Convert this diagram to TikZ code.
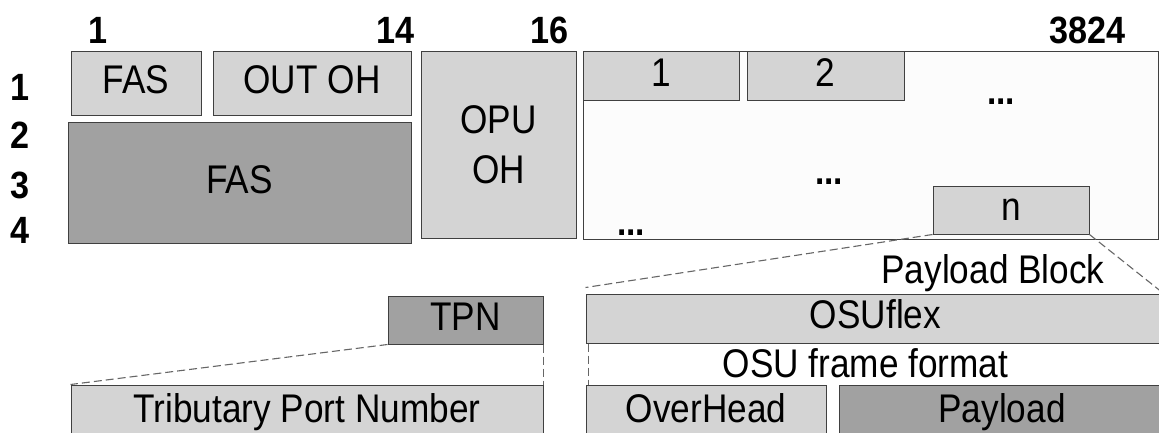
\documentclass[tikz,border=0pt]{standalone}
\usepackage{fontspec}
\setmainfont{Liberation Sans}[FakeStretch=0.88]
\newfontfamily\numfont{Liberation Sans}[FakeStretch=0.9]
\usepackage{tikz}
\usetikzlibrary{calc}
\definecolor{cellline}{rgb}{0.25,0.25,0.25}
\definecolor{celllight}{rgb}{0.83,0.83,0.83}
\definecolor{celldark}{rgb}{0.63,0.63,0.63}
\definecolor{areafill}{rgb}{0.99,0.99,0.99}

\begin{document}
\begin{tikzpicture}[
        x=1pt, y=-1pt,
        cell/.style={
            draw=cellline,
            line width=1pt,
            inner sep=0pt,
            align=center,
            font=\fontsize{40}{50}\selectfont
        },
        oneline/.style={text height=28pt, text depth=8pt},
        lightcell/.style={cell, fill=celllight},
        darkcell/.style={cell, fill=celldark},
        numlabel/.style={inner sep=0pt, font=\numfont\bfseries\fontsize{38}{40}\selectfont},
        textlabel/.style={inner sep=0pt, font=\fontsize{40}{40}\selectfont},
        dotlabel/.style={inner sep=0pt, font=\bfseries\fontsize{38}{40}\selectfont},
        zoomline/.style={draw=cellline!80, line width=1.1pt, dash pattern=on 8pt off 4pt}
    ]
        \clip (0,0) rectangle (1159,433);

        % column and row numbers
        \node[numlabel] (col1) at (98,30) {1};
        \node[numlabel, anchor=east] (col14) at (415,30) {14};
        \node[numlabel, anchor=east] (col16) at (569,30) {16};
        \node[numlabel, anchor=east] (col3824) at (1126,30) {3824};
        \node[numlabel] (row1) at (20,87) {1};
        \node[numlabel] (row2) at (20,135) {2};
        \node[numlabel] (row3) at (20,185) {3};
        \node[numlabel] (row4) at (20,230) {4};

        % overhead columns
        \node[lightcell, oneline, minimum width=130pt, minimum height=64pt] (fasA) at (136,84) {FAS};
        \node[lightcell, oneline, minimum width=198pt, minimum height=64pt] (outoh) at (312,84) {OUT OH};
        \node[darkcell, oneline, minimum width=343pt, minimum height=120pt] (fasB) at (239.5,183) {FAS};
        \node[lightcell, minimum width=155pt, minimum height=186pt] (opuoh) at (498.5,145) {OPU\\OH};

        % payload area
        \node[cell, fill=areafill, minimum width=575pt, minimum height=187pt] (area) at (870.5,145.5) {};
        \node[lightcell, oneline, minimum width=156pt, minimum height=49pt] (blk1) at (661,76.5) {1};
        \node[lightcell, oneline, minimum width=157pt, minimum height=49pt] (blk2) at (825.5,76.5) {2};
        \node[lightcell, oneline, minimum width=156pt, minimum height=48pt] (blkn) at (1011,210) {n};
        \node[dotlabel] (dotsA) at (1001,102) {...};
        \node[dotlabel] (dotsB) at (829,182) {...};
        \node[dotlabel] (dotsC) at (631,233) {...};

        % lower rows
        \node[darkcell, oneline, minimum width=155pt, minimum height=48pt] (tpn) at (465.5,320) {TPN};
        \node[lightcell, oneline, minimum width=472pt, minimum height=55pt] (trib) at (307,412.5) {Tributary Port Number};
        \node[lightcell, oneline, minimum width=579pt, minimum height=49pt] (osuflex) at (875.5,318.5) {OSUflex};
        \node[lightcell, oneline, minimum width=240pt, minimum height=55pt] (overhead) at (706,412.5) {OverHead};
        \node[darkcell, oneline, minimum width=326pt, minimum height=55pt] (payload) at (1002,412.5) {Payload};
        \node[textlabel, oneline] (blocklabel) at (993,273) {Payload Block};
        \node[textlabel, oneline] (framelabel) at (865.5,367) {OSU frame format};

        \coordinate (blkend) at (1163,293);

        \draw[zoomline] (blkn.south west) -- ($(osuflex.north west)+(0,-6)$);
        \draw[zoomline] (blkn.south east) -- (blkend);
        \draw[zoomline] (tpn.south west) -- (trib.north west);
        \draw[zoomline] (tpn.south east) -- (trib.north east);
        \draw[zoomline] ([xshift=3pt]osuflex.south west) -- ([xshift=3pt]overhead.north west);
    \end{tikzpicture}
\end{document}
